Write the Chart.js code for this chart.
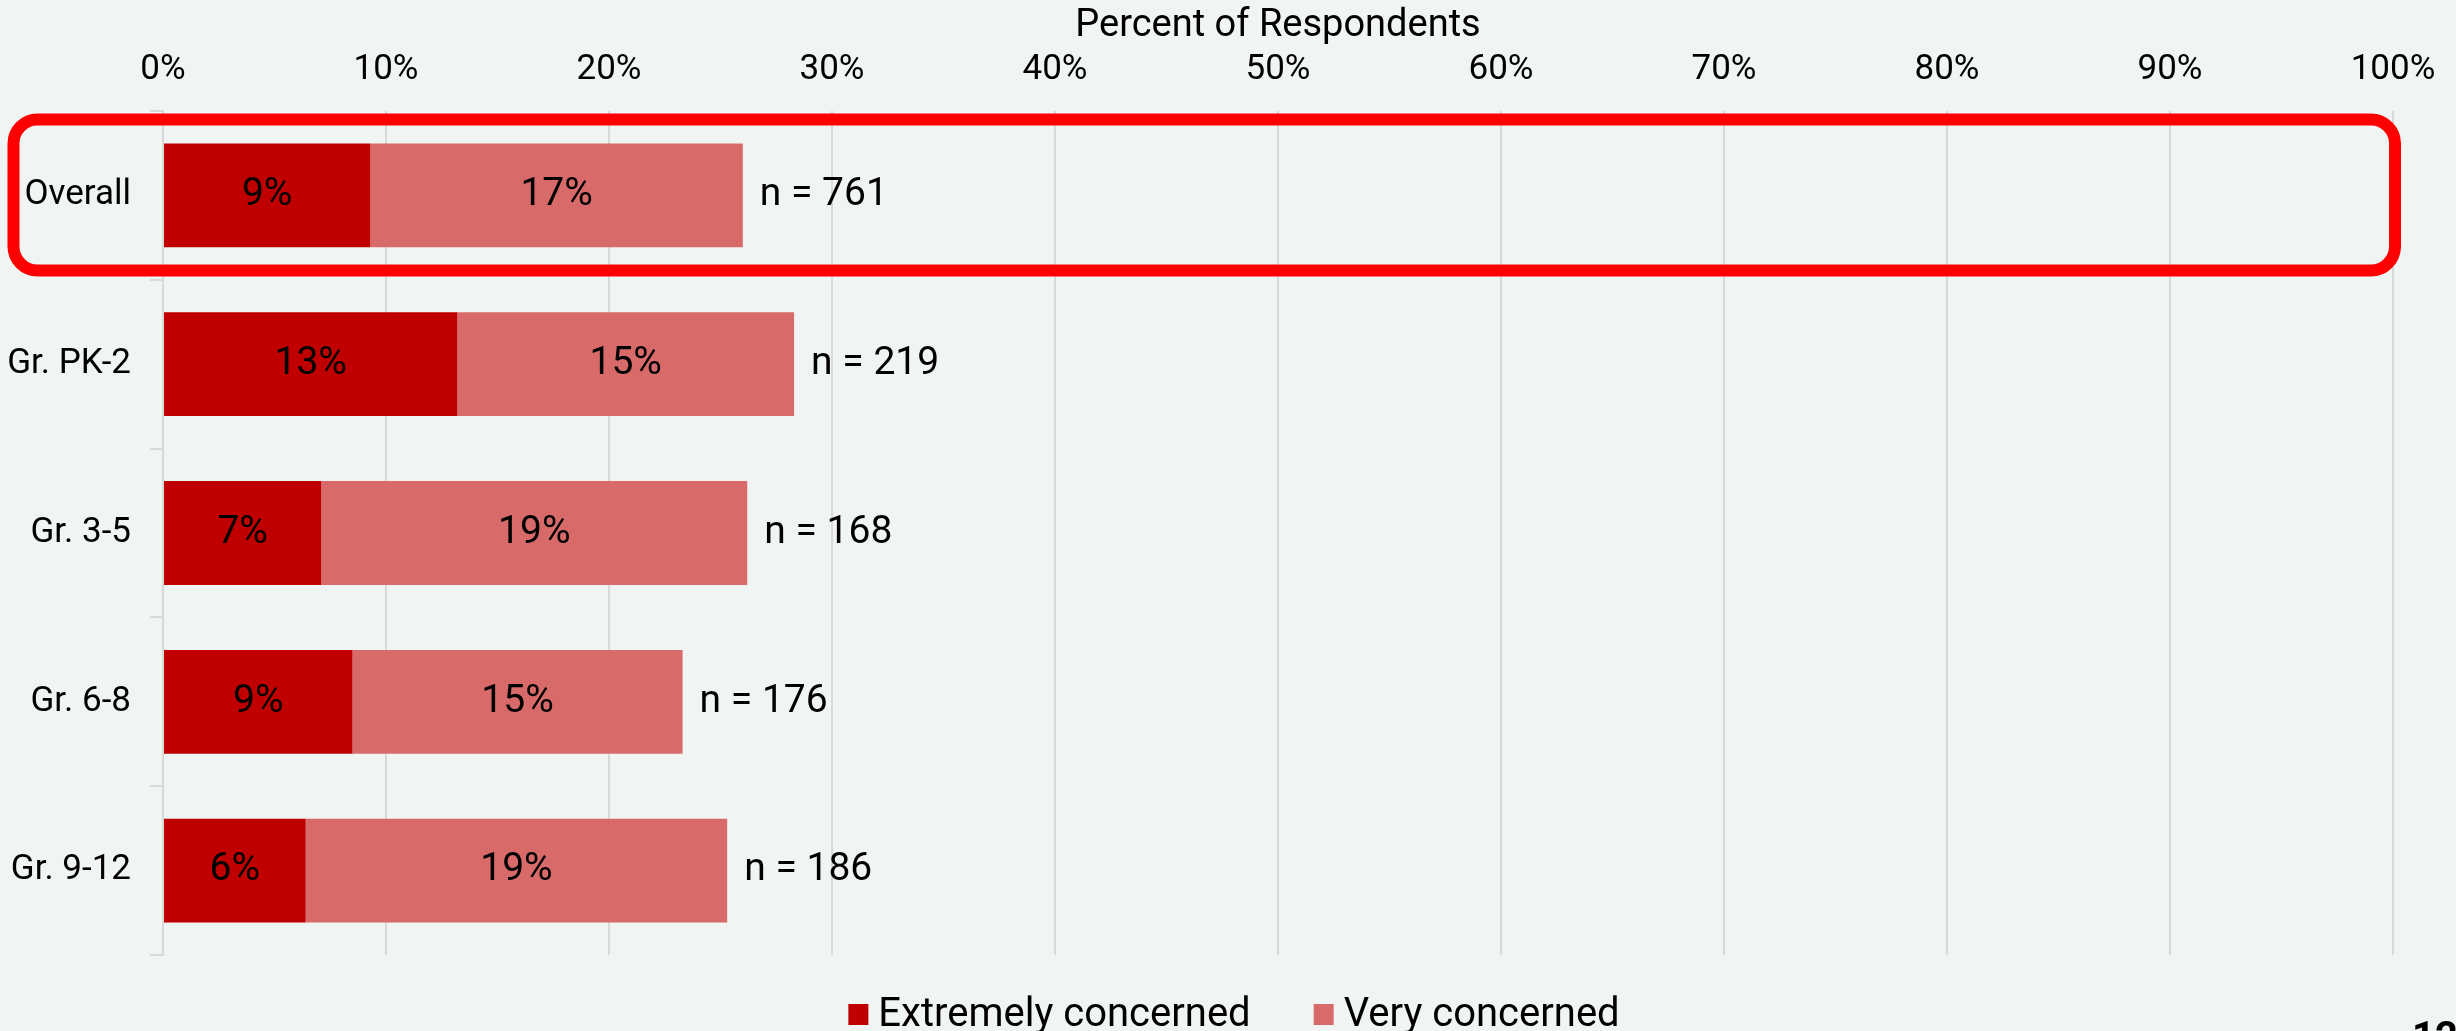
<!DOCTYPE html>
<html>
<head>
<meta charset="utf-8">
<script src="https://cdn.jsdelivr.net/npm/chart.js@4.4.1/dist/chart.umd.min.js"></script>
<style>
    html, body { margin: 0; padding: 0; background: #F0F5F3; }
    #wrap { width: 2456px; height: 1031px; position: relative; }
</style>
</head>
<body>
<div id="wrap"><canvas id="concernChart"></canvas></div>
<script>
// data
const categories = ['Overall', 'Gr. PK-2', 'Gr. 3-5', 'Gr. 6-8', 'Gr. 9-12'];
const extremelyConcerned = [9.3, 13.2, 7.1, 8.5, 6.4];
const veryConcerned = [16.7, 15.1, 19.1, 14.8, 18.9];
const respondents = [761, 219, 168, 176, 186];
const seriesNames = ['Extremely concerned', 'Very concerned'];
const pageNumber = '12';

const FONT = 'Roboto';

// percent labels inside bars + "n = ..." after the stack
const barLabels = {
    id: 'barLabels',
    afterDatasetsDraw(chart) {
        const ctx = chart.ctx;
        ctx.save();
        ctx.fillStyle = '#000';
        ctx.font = `39px ${FONT}`;
        ctx.textBaseline = 'middle';
        ctx.textAlign = 'center';
        chart.data.datasets.forEach((ds, i) => {
            chart.getDatasetMeta(i).data.forEach((bar, j) => {
                ctx.fillText(Math.round(ds.data[j]) + '%', (bar.x + bar.base) / 2, bar.y);
            });
        });
        ctx.textAlign = 'left';
        const lastMeta = chart.getDatasetMeta(chart.data.datasets.length - 1);
        lastMeta.data.forEach((bar, j) => {
            ctx.fillText('n = ' + respondents[j], bar.x + 17, bar.y);
        });
        ctx.restore();
    }
};

// red rounded box around the "Overall" row, legend and page number
const extras = {
    id: 'extras',
    afterDraw(chart) {
        const ctx = chart.ctx;
        const { x, y } = chart.scales;
        const band = y.height / categories.length;
        const cy = y.getPixelForValue(0);
        ctx.save();
        ctx.strokeStyle = '#FF0000';
        ctx.lineWidth = 12;
        const left = 13.5, right = x.getPixelForValue(100) + 2;
        const top = cy - band * 0.45, bottom = cy + band * 0.445;
        ctx.beginPath();
        ctx.roundRect(left, top, right - left, bottom - top, 24);
        ctx.stroke();

        // legend
        ctx.font = `40px ${FONT}`;
        ctx.textBaseline = 'alphabetic';
        ctx.textAlign = 'left';
        const box = 20, gap = 10, itemGap = 63;
        const items = chart.data.datasets.map(ds => ({
            text: ds.label,
            color: ds.backgroundColor,
            w: ctx.measureText(ds.label).width
        }));
        const total = items.reduce((s, it) => s + box + gap + it.w, 0) + itemGap * (items.length - 1);
        let lx = chart.width / 2 - total / 2 + 6;
        const baseY = chart.chartArea.bottom + 71;
        items.forEach(it => {
            ctx.fillStyle = it.color;
            ctx.fillRect(lx, baseY - 22, box, 21);
            ctx.fillStyle = '#000';
            ctx.fillText(it.text, lx + box + gap, baseY);
            lx += box + gap + it.w + itemGap;
        });

        ctx.font = `bold 40px ${FONT}`;
        ctx.fillText(pageNumber, 2412, 1050);
        ctx.restore();
    }
};

new Chart(document.getElementById('concernChart'), {
    type: 'bar',
    data: {
        labels: categories,
        datasets: [{
            label: seriesNames[0],
            data: extremelyConcerned,
            backgroundColor: '#C00000'
        }, {
            label: seriesNames[1],
            data: veryConcerned,
            backgroundColor: '#D96A6A'
        }]
    },
    options: {
        indexAxis: 'y',
        responsive: true,
        maintainAspectRatio: false,
        animation: false,
        devicePixelRatio: 1,
        datasets: { bar: { categoryPercentage: 1, barPercentage: 0.615 } },
        layout: { padding: { left: 0, right: 63, top: 0, bottom: 76 } },
        plugins: {
            legend: { display: false },
            tooltip: { enabled: false }
        },
        scales: {
            x: {
                position: 'top',
                stacked: true,
                min: 0,
                max: 100,
                ticks: {
                    stepSize: 10,
                    callback: v => v + '%',
                    font: { family: FONT, size: 35 },
                    color: '#000',
                    padding: 20,
                    maxRotation: 0
                },
                grid: { color: '#D9D9D9', lineWidth: 2, drawTicks: false },
                border: { display: false },
                title: {
                    display: true,
                    text: 'Percent of Respondents',
                    font: { family: FONT, size: 38 },
                    color: '#000',
                    padding: { top: 4, bottom: 0 }
                },
                afterFit(scale) { scale.height = 111; }
            },
            y: {
                stacked: true,
                ticks: { font: { family: FONT, size: 35 }, color: '#000', padding: 19 },
                grid: { offset: true, drawOnChartArea: false, tickLength: 13, color: '#D9D9D9', lineWidth: 2 },
                border: { color: '#D9D9D9', width: 2 },
                afterFit(scale) { scale.width = 163; }
            }
        }
    },
    plugins: [barLabels, extras]
});
</script>
</body>
</html>
